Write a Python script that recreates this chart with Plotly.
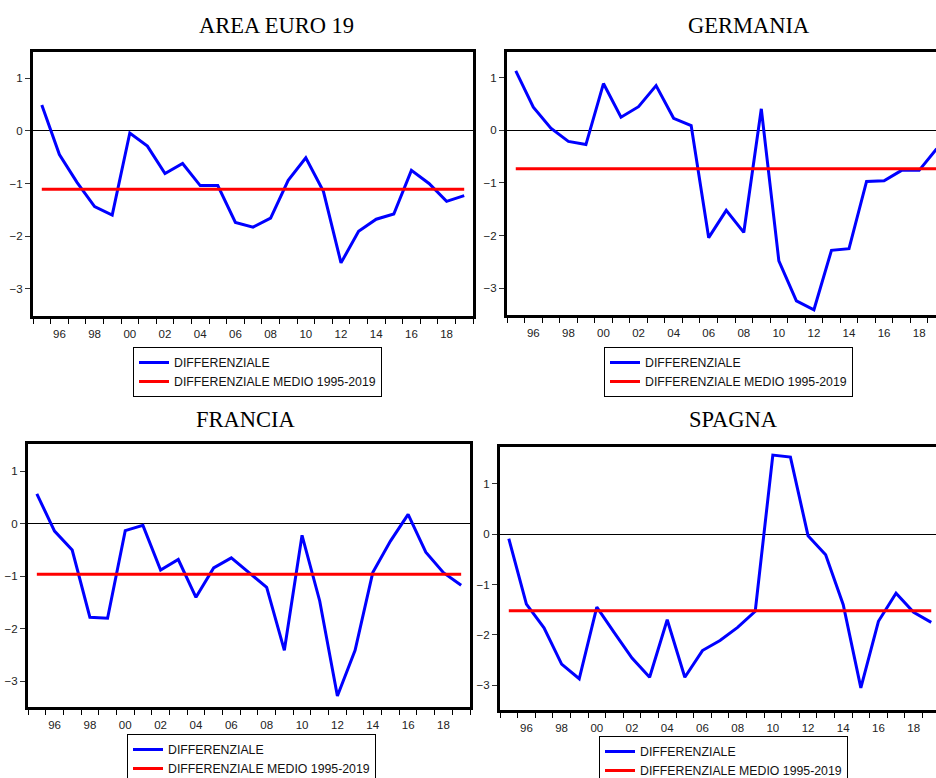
import plotly.graph_objects as go

# ## Data
years = list(range(1995, 2020))

area_euro = [0.49, -0.45, -0.98, -1.44, -1.60, -0.04, -0.29, -0.81, -0.62, -1.04,
             -1.04, -1.74, -1.83, -1.66, -0.94, -0.51, -1.15, -2.51, -1.91, -1.68,
             -1.58, -0.75, -1.00, -1.34, -1.23]
germania = [1.13, 0.44, 0.04, -0.21, -0.27, 0.89, 0.25, 0.45, 0.85, 0.23,
            0.09, -2.04, -1.52, -1.94, 0.41, -2.48, -3.24, -3.41, -2.28, -2.25,
            -0.97, -0.96, -0.76, -0.76, -0.35]
francia = [0.57, -0.14, -0.50, -1.78, -1.80, -0.13, -0.03, -0.88, -0.68, -1.40,
           -0.84, -0.65, -0.93, -1.21, -2.41, -0.22, -1.47, -3.28, -2.41, -0.93,
           -0.33, 0.18, -0.54, -0.93, -1.17]
spagna = [-0.09, -1.39, -1.86, -2.58, -2.87, -1.45, -1.96, -2.46, -2.84, -1.70,
          -2.84, -2.31, -2.11, -1.85, -1.53, 1.57, 1.53, -0.03, -0.41, -1.40,
          -3.05, -1.73, -1.17, -1.55, -1.75]

# differenziale medio 1995-2019
medio = {'AREA EURO 19': -1.11, 'GERMANIA': -0.73, 'FRANCIA': -0.96, 'SPAGNA': -1.52}

tick_years = list(range(1996, 2019, 2))
tick_text = ['%02d' % (y % 100) for y in tick_years]
y_ticks = [1, 0, -1, -2, -3]

W, H = 936, 778

# panel boxes in pixels: (title, data, x0, x1, y_top, y_bottom, xrange, yrange, right_frame)
panels = [
    ('AREA EURO 19', area_euro, 33, 473, 52, 316, [1994.5, 2019.5], [-3.52, 1.50], True),
    ('GERMANIA', germania, 507, 936, 52, 315, [1994.5, 2018.96], [-3.51, 1.49], False),
    ('FRANCIA', francia, 28, 470, 444, 707, [1994.5, 2019.5], [-3.49, 1.52], True),
    ('SPAGNA', spagna, 500, 936, 447, 710, [1994.5, 2019.27], [-3.49, 1.73], False),
]
title_pos = [(276, 25), (749, 25), (246, 419), (733, 419)]
legend_pos = [(133, 347), (604, 347), (127, 734), (599, 736)]

tick_font = dict(family='Liberation Sans, Arial', size=11.5, color='#222222')
legend_font = dict(family='Liberation Sans, Arial', size=12.3, color='#111111')

fig = go.Figure()
annotations = []

for i, (name, vals, x0, x1, yt, yb, xr, yr, right) in enumerate(panels):
    n = '' if i == 0 else str(i + 1)
    leg = 'legend' + n
    fig.add_trace(go.Scatter(x=years, y=vals, mode='lines', name='DIFFERENZIALE',
                             line=dict(color='#0000FF', width=3),
                             xaxis='x' + n, yaxis='y' + n, legend=leg))
    fig.add_trace(go.Scatter(x=[years[0], years[-1]], y=[medio[name]] * 2, mode='lines',
                             name='DIFFERENZIALE MEDIO 1995-2019',
                             line=dict(color='#FF0000', width=3),
                             xaxis='x' + n, yaxis='y' + n, legend=leg))

    fig.update_layout(**{
        'xaxis' + n: dict(domain=[x0 / W, x1 / W], range=xr, anchor='y' + n,
                          tickmode='array', tickvals=tick_years, ticktext=tick_text,
                          ticks='outside', ticklen=5, tickcolor='rgba(0,0,0,0)',
                          minor=dict(tickvals=[1994.5 + k for k in range(26)],
                                     ticks='outside', ticklen=5, tickwidth=1, tickcolor='black'),
                          showline=True, linecolor='black', linewidth=3, mirror=True,
                          showgrid=False, zeroline=False, tickfont=tick_font),
        'yaxis' + n: dict(domain=[1 - yb / H, 1 - yt / H], range=yr, anchor='x' + n,
                          tickmode='array', tickvals=y_ticks,
                          ticks='outside', ticklen=5, tickwidth=1, tickcolor='#333333',
                          showline=True, linecolor='black', linewidth=3, mirror=right,
                          showgrid=False, zeroline=True, zerolinecolor='black',
                          zerolinewidth=1, tickfont=tick_font),
        leg: dict(x=legend_pos[i][0] / W, y=1 - legend_pos[i][1] / H,
                  xanchor='left', yanchor='top', bordercolor='black', borderwidth=1,
                  bgcolor='white', font=legend_font, itemwidth=30,
                  tracegroupgap=0),
    })

    annotations.append(dict(text=name, x=title_pos[i][0] / W, y=1 - title_pos[i][1] / H,
                            xref='paper', yref='paper', xanchor='center', yanchor='middle',
                            showarrow=False,
                            font=dict(family='Liberation Serif, Times New Roman', size=22.5,
                                      color='black')))

fig.update_layout(width=W, height=H,
                  margin=dict(l=0, r=0, t=0, b=0, autoexpand=False),
                  paper_bgcolor='white', plot_bgcolor='white',
                  showlegend=True, annotations=annotations)

fig.write_html("out.html", config={'displayModeBar': False},
               post_script="document.body.style.margin='0';document.body.style.overflow='hidden';")
